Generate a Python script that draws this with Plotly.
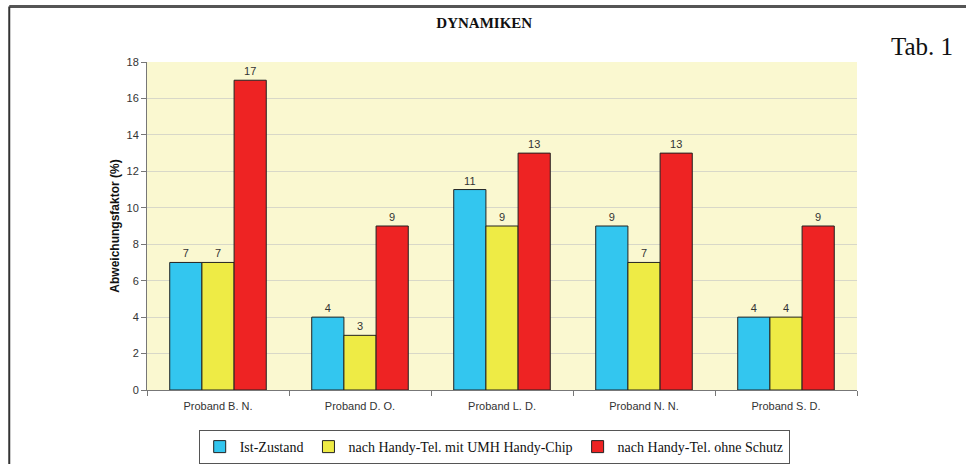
import plotly.graph_objects as go

categories = ["Proband B. N.", "Proband D. O.", "Proband L. D.", "Proband N. N.", "Proband S. D."]
ist_zustand = [7, 4, 11, 9, 4]
mit_chip = [7, 3, 9, 7, 4]
ohne_schutz = [17, 9, 13, 13, 9]
series_names = ["Ist-Zustand", "nach Handy-Tel. mit UMH Handy-Chip", "nach Handy-Tel. ohne Schutz"]
colors = ["#33C6EF", "#EEEB45", "#EE2323"]

fig = go.Figure()
for name, vals, col in zip(series_names, [ist_zustand, mit_chip, ohne_schutz], colors):
    fig.add_trace(go.Bar(
        x=categories, y=vals, name=name,
        marker=dict(color=col, line=dict(color="#222222", width=1)),
        text=[str(v) for v in vals], textposition="outside",
        textfont=dict(family="Liberation Sans, Arial", size=11, color="#333333"),
        cliponaxis=False,
    ))

fig.update_layout(
    width=966, height=464,
    margin=dict(l=147, r=109, t=62, b=74, autoexpand=False),
    paper_bgcolor="white",
    plot_bgcolor="#FAF8D0",
    barmode="group", bargap=0.32, bargroupgap=0,
    showlegend=True,
    legend=dict(
        orientation="h", x=0.489, xanchor="center", y=-0.122, yanchor="top",
        bordercolor="#555555", borderwidth=1, bgcolor="white",
        font=dict(family="Liberation Serif, Times New Roman", size=14, color="#111111"),
        itemwidth=30, tracegroupgap=0,
    ),
    title=dict(text="<b>DYNAMIKEN</b>", x=0.475, xref="paper", xanchor="center", y=0.952, yanchor="middle",
               font=dict(family="Liberation Serif, Times New Roman", size=15, color="#111111")),
    xaxis=dict(
        showline=True, linecolor="#777777", linewidth=1,
        ticks="outside", ticklen=5, tickcolor="#777777",
        tickson="boundaries", ticklabelstandoff=6,
        tickfont=dict(family="Liberation Sans, Arial", size=11, color="#333333"),
        showgrid=False,
    ),
    yaxis=dict(
        range=[0, 18], dtick=2,
        showline=True, linecolor="#777777", linewidth=1,
        ticks="outside", ticklen=5, tickcolor="#777777",
        showgrid=True, gridcolor="#D8D8C8", gridwidth=1,
        tickfont=dict(family="Liberation Sans, Arial", size=11, color="#333333"),
        title=dict(text="<b>Abweichungsfaktor (%)</b>", standoff=4,
                   font=dict(family="Liberation Sans, Arial", size=12, color="#111111")),
        zeroline=False,
    ),
    font=dict(family="Liberation Sans, Arial"),
)

# Outer frame (top and left borders)
fig.add_shape(type="line", xref="paper", yref="paper", x0=-0.194, x1=1.2, y0=1.169, y1=1.169,
              line=dict(color="#555555", width=3))
fig.add_shape(type="line", xref="paper", yref="paper", x0=-0.194, x1=-0.194, y0=-0.3, y1=1.169,
              line=dict(color="#333333", width=2))

fig.add_annotation(text="Tab. 1", xref="paper", yref="paper", x=1.092, y=1.046, xanchor="center",
                   yanchor="middle", showarrow=False,
                   font=dict(family="Liberation Serif, Times New Roman", size=25, color="#111111"))

fig.write_html("out.html", config={"displayModeBar": False},
               post_script="document.body.style.margin='0';document.body.style.overflow='hidden';")
